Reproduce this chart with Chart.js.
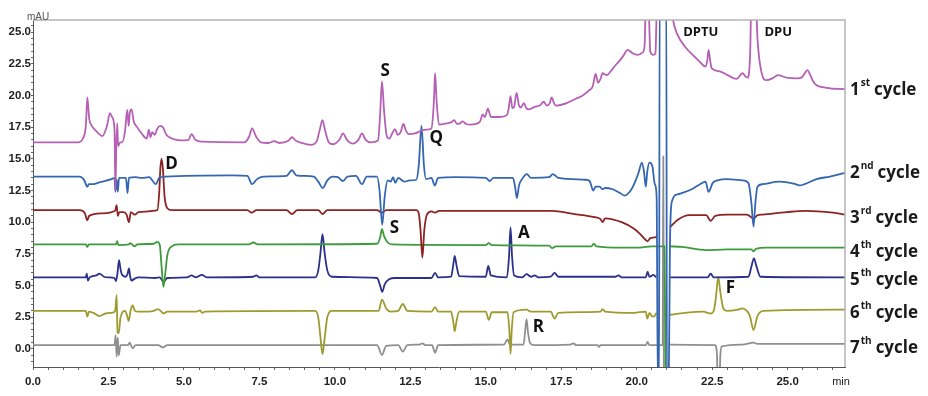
<!DOCTYPE html>
<html>
<head>
<meta charset="utf-8">
<script src="https://cdn.jsdelivr.net/npm/chart.js@4.4.1/dist/chart.umd.min.js"></script>
<style>
html, body { margin: 0; background: #fff; }
canvas { display: block; }
</style>
</head>
<body>
<canvas id="c" width="928" height="396"></canvas>
<script>
// [min, mAU] pairs, null = gap
const cycle1 = [[0,16.3],[1.5,16.3],[1.65,16.6],[1.75,17.6],[1.8,19.85],[1.86,18.2],[1.95,17.6],[2.05,17.3],[2.3,16.8],[2.45,17.6],[2.55,18.6],[2.62,18.3],[2.7,17.3],[2.73,12.5],[2.76,16.0],[2.79,17.8],[2.82,16.0],[2.88,16.3],[2.95,16.3],[3.05,17.2],[3.12,18.85],[3.17,17.6],[3.21,18.7],[3.27,18.9],[3.33,18.0],[3.45,17.5],[3.6,17.0],[3.77,16.6],[3.84,17.3],[3.89,16.7],[3.95,17.1],[4.03,16.9],[4.12,17.4],[4.22,17.6],[4.3,17.5],[4.42,16.9],[4.6,16.6],[4.9,16.45],[5.15,16.5],[5.25,16.95],[5.38,16.5],[5.6,16.35],[7.0,16.3],[7.15,16.7],[7.26,17.4],[7.38,16.8],[7.55,16.3],[7.8,16.25],[8.0,16.4],[8.15,16.25],[8.45,16.4],[8.58,16.7],[8.7,16.45],[8.9,16.25],[9.2,16.1],[9.4,16.4],[9.5,17.3],[9.59,18.05],[9.68,17.2],[9.8,16.3],[9.95,16.15],[10.15,16.5],[10.27,17.0],[10.4,16.5],[10.6,16.2],[10.78,16.5],[10.9,17.0],[11.02,16.5],[11.2,16.3],[11.43,16.45],[11.5,18.5],[11.56,21.1],[11.63,18.8],[11.72,16.8],[11.8,16.6],[11.9,17.0],[11.99,17.35],[12.08,16.9],[12.18,17.1],[12.27,17.75],[12.36,17.2],[12.45,16.95],[12.65,17.0],[12.85,17.2],[13.05,17.3],[13.2,17.4],[13.28,19.5],[13.32,21.75],[13.37,19.6],[13.45,17.7],[13.7,17.8],[13.87,17.9],[13.95,18.05],[14.05,17.75],[14.15,17.8],[14.23,17.95],[14.35,17.75],[14.5,17.7],[14.8,17.9],[14.9,18.5],[14.97,18.3],[15.07,18.95],[15.17,18.3],[15.46,18.3],[15.7,18.45],[15.76,19.0],[15.82,19.95],[15.88,19.0],[15.94,19.1],[16.02,20.2],[16.1,19.2],[16.16,19.05],[16.26,19.4],[16.34,19.0],[16.42,18.9],[16.62,19.1],[16.79,19.2],[16.92,19.5],[17.02,19.2],[17.12,19.4],[17.18,19.85],[17.26,19.4],[17.32,19.2],[17.68,19.4],[17.95,19.7],[18.21,20.0],[18.45,20.45],[18.54,20.7],[18.64,21.7],[18.72,21.0],[18.8,21.3],[18.87,21.75],[19.0,21.6],[19.2,22.1],[19.34,22.5],[19.4,22.65],[19.55,23.1],[19.7,23.6],[19.85,23.35],[20.03,23.2],[20.2,23.4],[20.26,23.9],[20.31,28],[20.38,28],[20.45,23.45],[20.55,23.2],[20.62,23.3],[20.68,28],[21.1,28],[21.2,26.0],[21.33,24.9],[21.65,23.7],[21.9,23.1],[22.09,22.65],[22.28,22.27],[22.34,22.8],[22.38,23.6],[22.43,22.8],[22.48,22.15],[22.75,21.9],[23.01,21.6],[23.31,21.3],[23.51,21.75],[23.6,21.5],[23.68,21.4],[23.76,23.5],[23.8,28],[23.94,28],[24.0,24.5],[24.14,21.75],[24.3,21.2],[24.5,21.35],[24.67,21.6],[24.97,21.4],[25.3,21.35],[25.46,21.4],[25.58,21.8],[25.66,22.0],[25.75,21.6],[25.89,20.95],[26.29,20.6],[26.9,20.5]];

const cycle2 = [[0,13.6],[1.55,13.6],[1.7,13.3],[1.8,12.8],[1.85,13.0],[2.0,13.0],[2.2,13.15],[2.6,13.4],[2.7,13.5],[2.73,12.4],[2.77,13.4],[2.81,12.4],[2.85,13.5],[3.08,13.5],[3.13,12.3],[3.18,13.5],[3.4,13.55],[3.6,13.5],[3.85,13.55],[3.95,13.3],[4.07,13.0],[4.18,13.5],[4.4,13.6],[6.6,13.7],[7.1,13.65],[7.26,13.0],[7.42,13.4],[7.63,13.6],[8.4,13.65],[8.58,14.1],[8.72,13.7],[9.3,13.6],[9.45,13.2],[9.6,12.7],[9.75,13.3],[9.93,13.6],[10.1,13.55],[10.27,13.25],[10.42,13.6],[10.7,13.65],[10.9,13.0],[11.06,13.6],[11.4,13.6],[11.48,12.5],[11.57,9.8],[11.65,12.0],[11.75,13.3],[11.85,13.2],[11.93,13.55],[12.0,13.1],[12.1,13.5],[12.3,13.2],[12.48,13.3],[12.7,13.35],[12.78,14.5],[12.87,17.6],[12.95,14.5],[13.02,13.4],[13.2,13.5],[13.31,12.9],[13.42,13.5],[14.0,13.55],[15.0,13.5],[15.13,13.25],[15.25,13.5],[15.9,13.5],[15.97,12.8],[16.03,11.9],[16.1,12.9],[16.2,13.4],[16.36,13.8],[16.5,13.5],[17.1,13.55],[17.22,13.8],[17.4,13.5],[18.3,13.35],[18.44,13.25],[18.56,12.5],[18.64,12.8],[18.77,12.8],[18.87,12.6],[18.95,12.7],[19.2,12.6],[19.45,12.3],[19.6,12.1],[19.8,12.5],[19.95,13.2],[20.06,13.9],[20.17,14.7],[20.24,14.0],[20.3,12.8],[20.35,14.0],[20.42,14.7],[20.52,14.4],[20.6,13.0],[20.66,12.0],[20.7,-3],[20.74,-3],[20.76,28],[20.98,28],[21.0,-3],[21.06,-3],[21.1,8],[21.16,11.6],[21.36,12.2],[21.49,12.3],[21.82,12.6],[22.1,13.0],[22.28,13.2],[22.38,12.4],[22.52,13.1],[22.68,13.3],[22.98,13.4],[23.5,13.3],[23.7,13.1],[23.8,11.5],[23.87,9.65],[23.93,11.5],[24.0,12.8],[24.17,13.0],[24.73,13.2],[25.2,13.05],[25.4,12.9],[25.56,13.0],[25.96,13.4],[26.4,13.6],[26.9,13.9]];

const cycle3 = [[0,10.95],[1.55,10.95],[1.72,10.7],[1.8,10.15],[1.86,10.5],[2.27,10.7],[2.72,10.9],[2.77,11.35],[2.81,10.5],[2.86,10.8],[3.0,10.8],[3.1,10.6],[3.18,10.0],[3.24,10.8],[3.37,10.6],[3.5,10.8],[3.82,10.85],[3.95,10.9],[4.12,10.95],[4.18,12.3],[4.22,14.3],[4.26,15.0],[4.3,14.3],[4.36,12.0],[4.45,11.1],[4.6,10.95],[7.1,10.95],[7.24,10.75],[7.4,10.95],[8.4,10.95],[8.58,10.65],[8.75,10.95],[9.45,10.95],[9.59,10.65],[9.75,10.95],[11.4,10.95],[11.56,10.75],[11.7,10.95],[12.7,10.95],[12.78,10.7],[12.84,9.3],[12.9,7.2],[12.96,9.3],[13.05,10.6],[13.2,10.85],[13.32,10.75],[13.45,10.9],[17.2,10.9],[17.9,10.65],[18.6,10.4],[18.8,10.25],[18.87,10.0],[18.95,10.3],[19.5,10.0],[19.9,9.5],[20.1,9.1],[20.3,8.6],[20.36,8.5],[20.45,8.75],[20.6,8.8],[20.68,8.9],[20.9,null],[21.1,9.6],[21.36,10.2],[21.75,10.56],[22.3,10.56],[22.45,10.1],[22.6,10.5],[23.0,10.6],[23.65,10.6],[23.87,10.3],[24.0,10.55],[24.17,10.6],[24.97,10.8],[25.6,10.9],[26.5,10.75],[26.9,10.6]];

const cycle4 = [[0,8.25],[1.75,8.25],[1.8,8.05],[1.85,8.25],[2.75,8.25],[2.79,8.5],[2.83,8.2],[3.18,8.25],[3.22,8.35],[3.3,8.2],[3.37,8.1],[3.45,8.25],[4.0,8.3],[4.12,8.45],[4.2,8.2],[4.26,6.5],[4.32,4.9],[4.38,5.9],[4.45,7.4],[4.6,8.1],[4.8,8.25],[7.15,8.25],[7.3,8.4],[7.45,8.25],[11.4,8.3],[11.5,8.8],[11.56,9.45],[11.63,8.9],[11.75,8.4],[11.9,8.25],[15.0,8.2],[15.1,8.35],[15.2,8.2],[17.1,8.15],[17.2,7.95],[17.32,8.1],[18.5,8.1],[18.58,8.3],[18.66,8.1],[19.5,8.0],[20.1,8.0],[20.5,8.1],[20.92,8.1],[20.96,-3],[21.0,null],[21.08,8.1],[21.5,8.05],[22.3,7.8],[23.0,7.85],[23.8,7.85],[23.87,7.7],[23.95,7.9],[24.3,8.0],[26.9,8.0]];

const cycle5 = [[0,5.65],[1.75,5.65],[1.78,5.95],[1.82,5.4],[1.88,5.65],[2.1,5.8],[2.2,5.95],[2.35,5.7],[2.5,5.65],[2.7,5.6],[2.75,5.35],[2.8,6.0],[2.85,7.0],[2.9,6.3],[2.95,5.85],[3.07,5.7],[3.13,5.9],[3.18,6.35],[3.22,5.7],[3.27,5.4],[3.37,5.55],[3.5,5.65],[4.05,5.6],[4.2,5.65],[4.32,5.3],[4.45,5.6],[5.1,5.65],[5.25,5.8],[5.4,5.65],[5.6,5.85],[5.75,5.65],[7.3,5.7],[7.4,5.8],[7.5,5.65],[9.35,5.65],[9.45,6.2],[9.52,7.5],[9.59,9.05],[9.66,7.6],[9.75,6.2],[9.9,5.7],[11.4,5.6],[11.5,5.0],[11.57,4.5],[11.65,5.1],[11.8,5.5],[12.0,5.6],[13.2,5.6],[13.32,6.0],[13.42,5.65],[13.85,5.7],[13.92,6.6],[13.97,7.35],[14.03,6.6],[14.12,5.75],[15.0,5.7],[15.08,6.55],[15.17,5.8],[15.7,5.65],[15.77,7.3],[15.82,9.6],[15.87,7.3],[15.94,5.8],[16.2,5.65],[16.35,5.9],[16.5,5.7],[16.62,5.8],[16.75,5.65],[17.15,5.7],[17.28,6.0],[17.4,5.7],[19.3,5.7],[19.4,5.8],[19.5,5.65],[20.3,5.65],[20.36,6.1],[20.42,5.7],[20.48,5.75],[20.55,5.85],[20.65,5.65],[20.9,null],[21.1,5.65],[22.35,5.65],[22.45,5.95],[22.55,5.65],[23.7,5.7],[23.8,6.5],[23.88,7.15],[23.97,6.5],[24.1,5.7],[26.9,5.65]];

const cycle6 = [[0,3.0],[1.75,3.0],[1.8,2.55],[1.85,2.95],[2.0,2.85],[2.2,2.6],[2.4,2.8],[2.6,2.85],[2.72,3.0],[2.77,4.25],[2.8,1.3],[2.84,1.25],[2.9,2.5],[3.05,3.0],[3.12,2.6],[3.17,2.2],[3.23,3.0],[3.3,3.45],[3.38,3.0],[3.5,2.95],[3.82,2.95],[4.0,3.0],[4.14,3.15],[4.25,2.95],[4.32,2.8],[4.45,2.95],[5.4,2.95],[5.54,3.05],[5.6,2.85],[5.7,2.95],[9.35,3.0],[9.45,2.5],[9.52,1.0],[9.59,-0.4],[9.66,0.8],[9.75,2.5],[9.9,3.0],[11.45,3.0],[11.56,3.9],[11.7,3.2],[11.85,2.95],[12.1,3.0],[12.25,3.55],[12.4,3.0],[13.2,2.95],[13.32,3.3],[13.42,2.95],[13.85,2.95],[13.92,2.2],[13.97,1.4],[14.03,2.2],[14.12,2.95],[15.0,2.95],[15.1,2.3],[15.2,2.9],[15.72,2.9],[15.78,1.5],[15.82,-0.4],[15.86,1.5],[15.92,2.9],[16.35,3.1],[16.5,2.95],[17.15,2.95],[17.28,2.4],[17.4,2.85],[18.8,2.95],[18.87,3.15],[18.95,2.95],[19.9,2.85],[20.3,2.95],[20.35,2.4],[20.42,2.85],[20.5,2.6],[20.57,2.55],[20.65,2.85],[20.9,null],[21.1,2.7],[21.6,2.85],[22.2,2.95],[22.45,2.8],[22.55,3.0],[22.62,4.0],[22.7,5.65],[22.77,4.5],[22.87,3.2],[23.0,3.0],[23.35,3.1],[23.5,3.2],[23.65,3.0],[23.75,2.6],[23.87,1.5],[24.0,2.6],[24.2,3.0],[26.9,3.1]];

const cycle7 = [[0,0.3],[2.7,0.3],[2.74,1.1],[2.77,-0.6],[2.81,0.9],[2.84,-0.5],[2.9,0.3],[3.15,0.3],[3.2,0.5],[3.3,0.05],[3.4,0.3],[4.15,0.3],[4.3,0.12],[4.45,0.3],[11.4,0.3],[11.56,-0.47],[11.7,0.25],[12.1,0.3],[12.25,-0.2],[12.4,0.3],[12.8,0.35],[12.9,0.45],[13.0,0.3],[13.22,0.3],[13.32,-0.3],[13.42,0.3],[15.6,0.35],[15.72,0.75],[15.8,0.35],[16.25,0.35],[16.3,1.3],[16.35,2.35],[16.4,1.3],[16.47,0.45],[16.6,0.3],[17.8,0.35],[17.9,0.45],[18.0,0.3],[18.7,0.3],[18.75,0.15],[18.8,0.3],[20.3,0.3],[20.36,0.55],[20.42,0.3],[20.86,0.3],[20.88,15.2],[20.9,-3],[21.0,null],[21.1,0.35],[22.6,0.3],[22.66,-0.5],[22.68,-3],[22.74,-3],[22.77,-0.5],[22.82,0.2],[23.5,0.35],[23.87,0.5],[24.0,0.4],[26.9,0.4]];

const cycles = [cycle1, cycle2, cycle3, cycle4, cycle5, cycle6, cycle7];
const cycleColors = ['#b560b5', '#3566b2', '#8c2424', '#3d9b3d', '#2b308c', '#9d9b2f', '#8f8f8f'];
const cycleNums = ['1', '2', '3', '4', '5', '6', '7'];
const cycleSups = ['st', 'nd', 'rd', 'th', 'th', 'th', 'th'];
const cycleLabelY = [20.03, 13.49, 9.94, 7.26, 5.05, 2.44, -0.32];

const peakNames = ['S', 'Q', 'D', 'S', 'A', 'R', 'F'];
const peakX = [11.67, 13.36, 4.59, 11.97, 16.26, 16.74, 23.1];
const peakY = [21.88, 16.64, 14.59, 9.5, 9.15, 1.73, 4.77];
const topNames = ['DPTU', 'DPU'];
const topX = [22.12, 24.69];

const isMajor = v => Math.abs(v / 2.5 - Math.round(v / 2.5)) < 1e-6;

const textPlugin = {
    id: 'texts',
    afterDraw(chart) {
        const { ctx, chartArea: a, scales: { x, y } } = chart;
        ctx.save();

        // top and right frame
        ctx.strokeStyle = '#b4b4b4';
        ctx.lineWidth = 1.5;
        ctx.beginPath();
        ctx.moveTo(a.left, a.top);
        ctx.lineTo(a.right, a.top);
        ctx.lineTo(a.right, a.bottom);
        ctx.stroke();

        ctx.fillStyle = '#111';
        ctx.textAlign = 'center';
        ctx.textBaseline = 'middle';
        ctx.font = 'bold 17px "Open Sans"';
        peakNames.forEach((t, i) => {
            ctx.fillText(t, x.getPixelForValue(peakX[i]), y.getPixelForValue(peakY[i]));
        });
        ctx.font = 'bold 13px "Open Sans"';
        topNames.forEach((t, i) => {
            ctx.fillText(t, x.getPixelForValue(topX[i]), y.getPixelForValue(25.0));
        });

        ctx.fillStyle = '#555';
        ctx.font = '10px "Liberation Sans"';
        ctx.fillText('mAU', a.left + 5, a.top - 3);
        ctx.fillStyle = '#222';
        ctx.font = '11px "Liberation Sans"';
        ctx.fillText('min', a.right - 4, a.bottom + 15);

        // cycle names on the right
        ctx.fillStyle = '#1a1a1a';
        ctx.textAlign = 'left';
        ctx.textBaseline = 'alphabetic';
        cycleNums.forEach((n, i) => {
            const by = y.getPixelForValue(cycleLabelY[i]);
            let px = a.right + 5;
            ctx.font = 'bold 17px "Open Sans"';
            ctx.fillText(n, px, by);
            px += ctx.measureText(n).width + 1;
            ctx.font = 'bold 10px "Open Sans"';
            ctx.fillText(cycleSups[i], px, by - 9);
            px += ctx.measureText(cycleSups[i]).width + 4;
            ctx.font = 'bold 17px "Open Sans"';
            ctx.fillText('cycle', px, by);
        });
        ctx.restore();
    }
};

new Chart(document.getElementById('c'), {
    type: 'line',
    data: {
        datasets: cycles.map((c, i) => ({
            label: cycleNums[i] + cycleSups[i] + ' cycle',
            data: c.map(p => ({ x: p[0], y: p[1] })),
            borderColor: cycleColors[i],
            borderWidth: 1.8,
            pointRadius: 0,
            fill: false,
            spanGaps: false,
            cubicInterpolationMode: 'monotone'
        }))
    },
    options: {
        responsive: false,
        animation: false,
        layout: { padding: { top: 20, right: 83, left: 0, bottom: 0 } },
        plugins: { legend: { display: false }, tooltip: { enabled: false } },
        scales: {
            x: {
                type: 'linear',
                min: 0,
                max: 26.9,
                afterFit: s => { s.height = 29; },
                border: { color: '#555', width: 1 },
                grid: { drawOnChartArea: false, tickLength: 3, color: '#666' },
                ticks: {
                    stepSize: 0.5,
                    autoSkip: false,
                    maxRotation: 0,
                    includeBounds: false,
                    padding: 5,
                    color: '#222',
                    font: { family: 'Liberation Sans', size: 11.5, weight: 'bold' },
                    callback: v => isMajor(v) ? v.toFixed(1) : ''
                }
            },
            y: {
                min: -1.42,
                max: 25.95,
                afterFit: s => { s.width = 33; },
                border: { color: '#555', width: 1 },
                grid: { drawOnChartArea: false, tickLength: 2, color: '#666' },
                ticks: {
                    stepSize: 0.5,
                    autoSkip: false,
                    includeBounds: false,
                    padding: 0,
                    color: '#222',
                    font: { family: 'Liberation Sans', size: 11.5, weight: 'bold' },
                    callback: v => isMajor(v) ? v.toFixed(1) : ''
                }
            }
        }
    },
    plugins: [textPlugin]
});
</script>
</body>
</html>
